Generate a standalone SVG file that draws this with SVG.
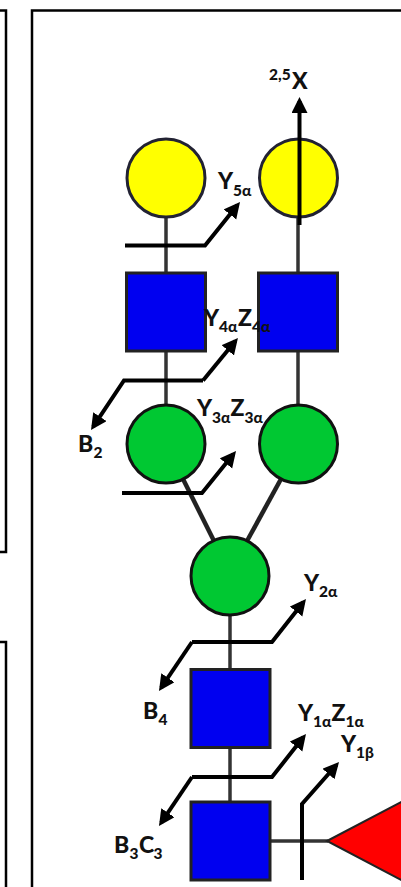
<svg xmlns="http://www.w3.org/2000/svg" width="401" height="887" viewBox="0 0 401 887">
<style>
.frame{fill:none;stroke:#000;stroke-width:2.5}
.link{fill:none;stroke:#333;stroke-width:3.5}
.diag{fill:none;stroke:#222;stroke-width:4.500}
.gal{fill:#ff0;stroke:#223;stroke-width:3}
.glc{fill:#00c832;stroke:#111;stroke-width:3}
.nac{fill:#0000f0;stroke:#222;stroke-width:3}
.fuc{fill:#f00;stroke:#222;stroke-width:2}
.arrow{fill:none;stroke:#000;stroke-width:4;marker-end:url(#head)}
text{font-family:"Lato","Open Sans","Liberation Sans",sans-serif;font-weight:900;font-size:23px;fill:#111}
.s{font-size:15.500px}
</style>
<defs>
<marker id="head" markerUnits="userSpaceOnUse" markerWidth="18" markerHeight="18" refX="12" refY="8" orient="auto">
<path d="M0 0L16 8L0 16Z" fill="#000"/>
</marker>
</defs>
<g id="frames">
<path class="frame" d="M0 10.5H6V552H0"/>
<path class="frame" d="M0 642H6V887"/>
<path class="frame" d="M401 10.5H32V887"/>
</g>
<g id="connectors">
<path class="link" d="M166 215V272"/>
<path class="link" d="M298 215V272"/>
<path class="link" d="M166 351V406"/>
<path class="link" d="M298 351V406"/>
<path class="diag" d="M183 479L214 541"/>
<path class="diag" d="M281 479L247 541"/>
<path class="link" d="M230 613V669"/>
<path class="link" d="M230 748V802"/>
<path class="link" d="M270 841H328"/>
</g>
<g id="n1"><circle class="gal" cx="166" cy="178" r="39"/></g>
<g id="n2"><circle class="gal" cx="298.500" cy="178" r="39"/></g>
<g id="n3"><rect class="nac" x="126.500" y="273" width="79" height="78"/></g>
<g id="n4"><rect class="nac" x="258.500" y="273" width="79" height="78"/></g>
<g id="n5"><circle class="glc" cx="166" cy="444" r="39"/></g>
<g id="n6"><circle class="glc" cx="298.500" cy="444" r="39"/></g>
<g id="n7"><circle class="glc" cx="230" cy="576" r="39"/></g>
<g id="n8"><rect class="nac" x="191" y="669.500" width="79" height="78"/></g>
<g id="n9"><rect class="nac" x="191" y="802" width="79" height="78"/></g>
<g id="n10"><path class="fuc" d="M327 841L403 801V881Z"/></g>
<g id="cleavages">
<path class="arrow" d="M299.500 225V101"/>
<path class="arrow" d="M125 245.500H205L237.500 205.100"/>
<path class="arrow" d="M203 380.500L235.400 341.100"/>
<path class="arrow" d="M203 380.500H124L93.200 426.700"/>
<path class="arrow" d="M122 493H202L233.500 454.100"/>
<path class="arrow" d="M192 642H272L303.500 602.100"/>
<path class="arrow" d="M192 642L161.200 687.700"/>
<path class="arrow" d="M192 777H272L303.500 737.100"/>
<path class="arrow" d="M192 777L161.200 822.700"/>
<path class="arrow" d="M302 880V804L336.400 765"/>
</g>
<g id="labels">
<text><tspan x="269" y="80" class="s">2,5</tspan><tspan x="292" y="89">X</tspan></text>
<text><tspan x="218" y="189">Y</tspan><tspan x="233" y="196" class="s">5α</tspan></text>
<text><tspan x="204" y="326">Y</tspan><tspan x="219" y="332" class="s">4α</tspan><tspan x="238" y="326">Z</tspan><tspan x="252" y="332" class="s">4α</tspan></text>
<text><tspan x="197" y="416">Y</tspan><tspan x="212" y="423" class="s">3α</tspan><tspan x="230.500" y="416">Z</tspan><tspan x="244.500" y="423" class="s">3α</tspan></text>
<text><tspan x="78" y="452">B</tspan><tspan x="93.500" y="458" class="s">2</tspan></text>
<text><tspan x="304" y="591">Y</tspan><tspan x="319" y="597" class="s">2α</tspan></text>
<text><tspan x="143" y="719">B</tspan><tspan x="158.500" y="725" class="s">4</tspan></text>
<text><tspan x="298" y="721">Y</tspan><tspan x="313" y="727" class="s">1α</tspan><tspan x="331.500" y="721">Z</tspan><tspan x="345.500" y="727" class="s">1α</tspan></text>
<text><tspan x="341" y="752">Y</tspan><tspan x="356" y="758" class="s">1β</tspan></text>
<text><tspan x="114" y="853">B</tspan><tspan x="129.500" y="859" class="s">3</tspan><tspan x="139" y="853">C</tspan><tspan x="153.500" y="859" class="s">3</tspan></text>
</g>
</svg>
